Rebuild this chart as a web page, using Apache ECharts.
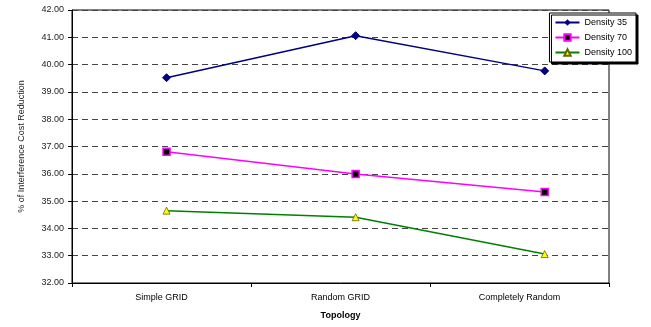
<!DOCTYPE html>
<html>
<head>
<meta charset="utf-8">
<script src="https://cdn.jsdelivr.net/npm/echarts@6/dist/echarts.min.js"></script>
<style>
  html, body { margin: 0; padding: 0; background: #fff; }
  #main { width: 651px; height: 327px; }
</style>
</head>
<body>
<div id="main"></div>
<script>
// topology categories and values
var topologies = ['Simple GRID', 'Random GRID', 'Completely Random'];
var density35 = [39.52, 41.06, 39.77];
var density70 = [36.81, 35.99, 35.33];
var density100 = [34.65, 34.41, 33.06];

function pts(arr) {
    return arr.map(function (v, i) { return [i, v]; });
}

var chart = echarts.init(document.getElementById('main'));
var font = 'Liberation Sans, Arial, sans-serif';

var option = {
    animation: false,
    grid: {
        left: 72, right: 42, top: 10, bottom: 44,
        show: true, borderColor: '#000', borderWidth: 1
    },
    legend: {
        data: ['Density 35', 'Density 70', 'Density 100'],
        orient: 'vertical',
        right: 15, top: 13,
        itemWidth: 24, itemHeight: 8, itemGap: 6,
        padding: [5, 4, 5, 5],
        backgroundColor: '#fff',
        borderColor: '#000', borderWidth: 1,
        shadowColor: '#000', shadowBlur: 0, shadowOffsetX: 2, shadowOffsetY: 2,
        textStyle: { fontFamily: font, fontSize: 9, color: '#000' }
    },
    xAxis: [{
        type: 'category',
        data: topologies,
        boundaryGap: true,
        name: 'Topology',
        nameLocation: 'middle',
        nameGap: 28,
        nameTextStyle: { fontFamily: font, fontSize: 9, fontWeight: 'bold', color: '#000' },
        axisLine: { lineStyle: { color: '#000', width: 1 } },
        axisTick: { show: true, length: 4, lineStyle: { color: '#000' } },
        axisLabel: { fontFamily: font, fontSize: 9, color: '#000', margin: 10 },
        splitLine: { show: false }
    }, {
        // hidden scale for the points (they sit slightly right of the category centres)
        type: 'value',
        min: -0.5, max: 2.34,
        show: false
    }],
    yAxis: {
        type: 'value',
        min: 32, max: 42, interval: 1,
        name: '% of Interference Cost Reduction',
        nameLocation: 'middle',
        nameRotate: 90,
        nameGap: 46,
        nameTextStyle: { fontFamily: font, fontSize: 9, color: '#222' },
        axisLine: { show: true, onZero: false, lineStyle: { color: '#000', width: 1 } },
        axisTick: { show: true, length: 4, inside: false, lineStyle: { color: '#000' } },
        axisLabel: {
            fontFamily: font, fontSize: 9, color: '#222', margin: 8,
            formatter: function (v) { return v.toFixed(2); }
        },
        splitLine: { show: true, lineStyle: { color: '#444', type: [6, 4], width: 1.2 } }
    },
    series: [{
        name: 'Density 35',
        type: 'line',
        xAxisIndex: 1,
        data: pts(density35),
        symbol: 'diamond', symbolSize: 8,
        lineStyle: { color: '#000080', width: 1.5 },
        itemStyle: { color: '#000080', borderColor: '#000080' }
    }, {
        name: 'Density 70',
        type: 'line',
        xAxisIndex: 1,
        data: pts(density70),
        symbol: 'rect', symbolSize: 7,
        lineStyle: { color: '#ff00ff', width: 1.5 },
        itemStyle: { color: '#000', borderColor: '#ff00ff', borderWidth: 1.5 }
    }, {
        name: 'Density 100',
        type: 'line',
        xAxisIndex: 1,
        data: pts(density100),
        symbol: 'triangle', symbolSize: 7,
        lineStyle: { color: '#008000', width: 1.5 },
        itemStyle: { color: '#ffff00', borderColor: '#666600', borderWidth: 0.8 }
    }]
};

chart.setOption(option);
</script>
</body>
</html>
